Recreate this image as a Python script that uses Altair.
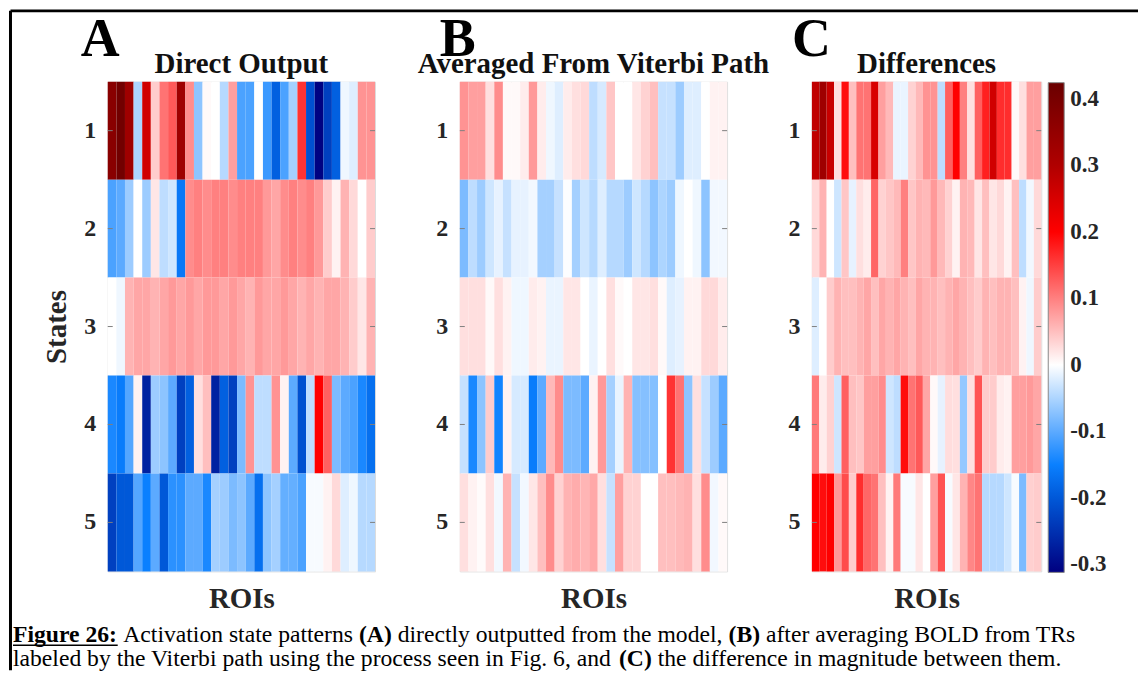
import altair as alt
import pandas as pd

SERIF = "Liberation Serif"

states = [1, 2, 3, 4, 5]
rois = list(range(1, 32))

# ---------- Panel A: Direct Output ----------
A_s1 = [0.37, 0.41, 0.33, -0.05, 0.26, 0.04, 0.11, 0.13, 0.33, 0.09, -0.07, 0.005, 0.0, -0.045, 0.075,
        -0.11, -0.11, 0.0, -0.12, -0.19, -0.11, -0.055, 0.16, -0.21, -0.31, -0.23, -0.19, -0.01, -0.02, 0.085, 0.085]
A_s2 = [-0.11, -0.1, -0.06, 0.0, -0.06, 0.02, -0.04, -0.03, -0.16, 0.09, 0.1, 0.09, 0.1, 0.1, 0.09,
        0.1, 0.1, 0.1, 0.08, 0.07, 0.09, 0.1, 0.09, 0.1, 0.08, 0.04, 0.01, 0.06, 0.03, 0.0, 0.04]
A_s3 = [0.0, -0.01, 0.06, 0.07, 0.07, 0.06, 0.07, 0.08, 0.07, 0.08, 0.07, 0.08, 0.08, 0.07, 0.08,
        0.07, 0.06, 0.08, 0.07, 0.07, 0.08, 0.07, 0.06, 0.07, 0.06, 0.07, 0.07, 0.06, 0.04, 0.02, 0.06]
A_s4 = [-0.14, -0.155, -0.105, 0.01, -0.27, -0.06, -0.07, -0.1, -0.23, -0.19, 0.025, 0.05, -0.27, -0.19, -0.23,
        -0.08, 0.085, -0.04, -0.04, 0.085, 0.01, -0.1, -0.21, -0.04, 0.2, 0.125, -0.08, -0.1, -0.11, -0.14, -0.17]
A_s5 = [-0.23, -0.2, -0.2, -0.105, -0.15, -0.1, -0.2, -0.13, -0.13, -0.1, -0.1, -0.14, -0.055, -0.06, -0.08,
        -0.07, -0.1, -0.17, -0.07, -0.055, -0.095, -0.095, -0.11, -0.005, -0.005, 0.01, 0.03, -0.02, -0.01, -0.045, -0.045]

# ---------- Panel B: Averaged From Viterbi Path ----------
B_s1 = [0.085, 0.075, 0.075, 0.025, 0.09, 0.005, 0.005, 0.015, 0.08, 0.015, -0.01, -0.02, 0.015, 0.025, 0.03,
        -0.04, -0.025, 0.045, 0.0, 0.0, 0.02, 0.035, 0.05, -0.035, -0.035, -0.06, -0.02, -0.02, 0.0, 0.01, 0.01]
B_s2 = [-0.08, -0.04, -0.06, -0.03, -0.015, -0.035, -0.015, -0.015, -0.008, -0.055, -0.055, -0.035, -0.002, -0.055, -0.03,
        -0.045, -0.02, -0.045, -0.045, -0.06, -0.03, -0.045, -0.07, -0.05, -0.06, -0.01, 0.0, -0.01, -0.07, -0.008, -0.008]
B_s3 = [0.025, 0.025, 0.025, 0.005, 0.025, 0.01, -0.01, -0.01, 0.015, 0.01, -0.013, -0.013, 0.02, 0.02, 0.0,
        -0.013, 0.0, 0.025, 0.005, 0.0, 0.02, 0.02, 0.025, 0.005, -0.02, -0.015, 0.01, 0.01, 0.03, 0.03, 0.015]
B_s4 = [-0.035, -0.14, -0.07, 0.04, -0.145, 0.01, -0.025, -0.025, -0.155, -0.1, 0.055, 0.09, -0.08, -0.08, -0.1,
        0.01, 0.08, -0.055, -0.013, 0.06, -0.075, -0.075, -0.075, 0.0, 0.16, 0.11, -0.07, 0.025, -0.035, -0.06, -0.1]
B_s5 = [0.025, 0.01, 0.003, 0.025, -0.008, 0.06, -0.035, -0.008, 0.02, 0.05, 0.09, 0.035, 0.06, 0.065, 0.058,
        0.068, 0.025, -0.035, 0.075, 0.035, 0.035, 0.0, 0.0, 0.05, 0.05, 0.055, 0.06, 0.025, 0.09, -0.008, 0.005]

# ---------- Panel C: Differences ----------
C_s1 = [0.28, 0.33, 0.27, 0.025, 0.19, 0.05, 0.11, 0.11, 0.25, 0.075, 0.055, -0.013, -0.013, 0.035, 0.055,
        0.085, 0.085, -0.04, 0.125, 0.2, 0.1, 0.025, 0.125, 0.175, 0.26, 0.165, 0.165, 0.005, 0.025, 0.075, 0.075]
C_s2 = [0.03, 0.06, 0.0, -0.03, 0.045, -0.015, 0.025, 0.015, 0.12, 0.035, 0.045, 0.055, 0.1, 0.045, 0.06,
        0.055, 0.08, 0.055, 0.035, 0.01, 0.06, 0.055, 0.02, 0.05, 0.02, 0.03, 0.01, 0.05, -0.04, -0.008, 0.03]
C_s3 = [-0.02, 0.0, 0.04, 0.06, 0.05, 0.05, 0.06, 0.07, 0.05, 0.07, 0.06, 0.07, 0.06, 0.05, 0.07,
        0.06, 0.06, 0.05, 0.06, 0.07, 0.06, 0.05, 0.04, 0.06, 0.05, 0.06, 0.06, 0.05, 0.01, -0.01, 0.04]
C_s4 = [0.105, 0.015, 0.035, -0.03, 0.125, 0.05, 0.045, 0.075, 0.075, 0.09, -0.03, -0.04, 0.19, 0.11, 0.13,
        0.07, 0.005, -0.015, 0.027, 0.025, -0.065, 0.025, 0.135, 0.04, 0.04, 0.015, 0.01, 0.075, 0.075, 0.08, 0.07]
C_s5 = [0.2, 0.19, 0.2, 0.08, 0.14, 0.04, 0.165, 0.12, 0.11, 0.05, 0.01, 0.105, -0.005, -0.005, 0.02,
        0.0, 0.075, 0.135, -0.005, 0.02, 0.06, 0.095, 0.11, -0.045, -0.045, -0.045, -0.03, -0.005, -0.08, 0.037, 0.04]

cbar_ticks = [0.4, 0.3, 0.2, 0.1, 0, -0.1, -0.2, -0.3]
cmap_domain = [-0.312, -0.2, -0.15, 0, 0.2, 0.3, 0.4245]
cmap_colors = ["#000080", "#0058d8", "#0a80ff", "#ffffff", "#ff0000", "#b00000", "#6a0000"]

caption_line1 = ["Figure 26:", "Activation state patterns", "(A)", "directly outputted from the model,",
                 "(B)", "after averaging BOLD from TRs"]
caption_line2 = ["labeled by the Viterbi path using the process seen in Fig. 6, and", "(C)",
                 "the difference in magnitude between them."]


def to_long(rows):
    recs = []
    for s, row in zip(states, rows):
        for r, v in zip(rois, row):
            recs.append({"state": s, "roi": r, "value": v})
    return pd.DataFrame(recs)


cscale = alt.Scale(domain=cmap_domain, range=cmap_colors, interpolate="rgb", clamp=True)

PLOT_H = 491


def text_layer(txt, x, y, size, weight="normal", align="left", color="black"):
    return alt.Chart(pd.DataFrame({"t": [txt]})).mark_text(
        font=SERIF, fontSize=size, fontWeight=weight, align=align,
        baseline="alphabetic", color=color
    ).encode(x=alt.value(x), y=alt.value(y), text="t:N")


def heat(rows, title, letter, letter_x, ytitle, legend, width):
    df = to_long(rows)
    yaxis = alt.Axis(
        labelFont=SERIF, labelFontSize=24, labelFontWeight="bold", labelColor="#262626",
        labelPadding=12, ticks=False, domain=False, labelAngle=0,
        titleFont=SERIF, titleFontSize=29, titleFontWeight="bold", titleColor="#262626",
        titlePadding=12,
    )
    if ytitle:
        y = alt.Y("state:O", axis=yaxis, title=ytitle)
    else:
        y = alt.Y("state:O", axis=yaxis, title=None)
    xaxis = alt.Axis(labels=False, ticks=False, domain=False,
                     titleFont=SERIF, titleFontSize=29, titleFontWeight="bold",
                     titleColor="#262626", titlePadding=13)
    color = alt.Color("value:Q", scale=cscale, legend=legend)
    rect = alt.Chart(df).mark_rect().encode(
        x=alt.X("roi:O", axis=xaxis, title="ROIs"),
        y=y,
        color=color,
    )
    tick_df = pd.DataFrame({"state": states})
    lticks = alt.Chart(tick_df).mark_rule(color="#7f7f7f", strokeWidth=1).encode(
        y="state:O", x=alt.value(0), x2=alt.value(5))
    rticks = alt.Chart(tick_df).mark_rule(color="#7f7f7f", strokeWidth=1).encode(
        y="state:O", x=alt.value(width - 5), x2=alt.value(width))
    lay = alt.layer(
        rect, lticks, rticks,
        text_layer(letter, letter_x, -26, 54, "bold"),
        text_layer(title, width / 2, -9, 29, "bold", align="center", color="#111111"),
    )
    return lay.properties(width=width, height=PLOT_H)


legendC = alt.Legend(
    orient="none", legendX=237, legendY=1, direction="vertical",
    gradientLength=PLOT_H, gradientThickness=16, title=None, values=cbar_ticks,
    labelFont=SERIF, labelFontSize=23, labelFontWeight="bold", labelColor="#262626",
    labelOffset=6, gradientStrokeColor="#888888", gradientStrokeWidth=1,
    labelExpr="toString(datum.value)",
)

panelA = heat([A_s1, A_s2, A_s3, A_s4, A_s5], "Direct Output", "A", -27, "States", None, 268)
panelB = heat([B_s1, B_s2, B_s3, B_s4, B_s5], "Averaged From Viterbi Path", "B", -20, None, None, 268)
panelC = heat([C_s1, C_s2, C_s3, C_s4, C_s5], "Differences", "C", -20, None, legendC, 230)

# frame + caption as layers on panel A (positions relative to panel A plot area)
frame_left = alt.Chart(pd.DataFrame({"k": [0]})).mark_rule(color="black", strokeWidth=3).encode(
    x=alt.value(-97.5), y=alt.value(-71), y2=alt.value(590))
frame_top = alt.Chart(pd.DataFrame({"k": [0]})).mark_rule(color="black", strokeWidth=3).encode(
    x=alt.value(-97.5), x2=alt.value(1033), y=alt.value(-71))

CAP = 23.7
cap_y1 = 562
cap_y2 = 586
x1 = [-95, 15.6, 251.9, 290.7, 622.5, 660.0]
w1 = ["bold", "normal", "bold", "normal", "bold", "normal"]
x2 = [-95, 512.6, 551.4]
w2 = ["normal", "bold", "normal"]
caption = [text_layer(t, x, cap_y1, CAP, w) for t, x, w in zip(caption_line1, x1, w1)]
caption += [text_layer(t, x, cap_y2, CAP, w) for t, x, w in zip(caption_line2, x2, w2)]
underline = alt.Chart(pd.DataFrame({"k": [0]})).mark_rule(color="black", strokeWidth=1.5).encode(
    x=alt.value(-95), x2=alt.value(-95 + 105), y=alt.value(cap_y1 + 3))

panelA_full = alt.layer(panelA, frame_left, frame_top, underline, *caption)

chart = alt.hconcat(panelA_full, panelB, panelC, spacing=85).properties(
    bounds="flush", padding={"left": 0, "top": 0, "right": 0, "bottom": 0}
).resolve_scale(color="independent").configure_view(
    stroke="#a6a6a6", strokeWidth=1
).configure(background="white")

chart.save("out.html", embed_options={"renderer": "svg", "actions": False})
